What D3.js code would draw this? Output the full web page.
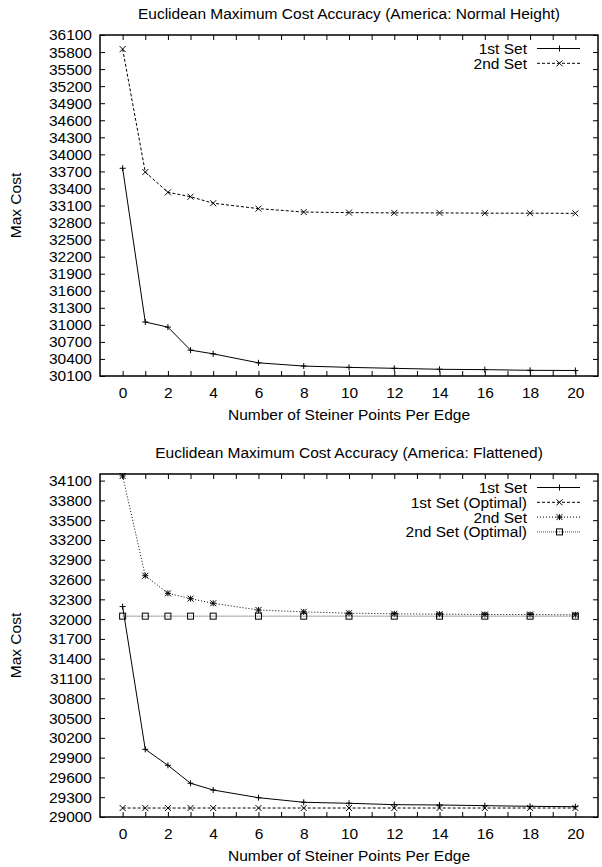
<!DOCTYPE html>
<html>
<head>
<meta charset="utf-8">
<script src="https://cdn.jsdelivr.net/npm/d3@7"></script>
<style>
  html, body { margin: 0; padding: 0; background: #fff; }
  svg { display: block; }
  text { font-family: "Liberation Sans", Arial, Helvetica, sans-serif; fill: #000; }
</style>
</head>
<body>
<svg id="chart" width="602" height="867"></svg>
<script>
// ---------------- DATA ----------------
const steinerPoints = [0, 1, 2, 3, 4, 6, 8, 10, 12, 14, 16, 18, 20];
const xTickValues = d3.range(0, 21);          // tick marks at every integer
const xTickLabels = [0, 2, 4, 6, 8, 10, 12, 14, 16, 18, 20];

// Chart 1: America Normal Height
const normalTitle = "Euclidean Maximum Cost Accuracy (America: Normal Height)";
const normalFirstSet  = [33755, 31050, 30960, 30555, 30490, 30332, 30275, 30252, 30235, 30218, 30212, 30200, 30197];
const normalSecondSet = [35852, 33688, 33332, 33255, 33140, 33045, 32985, 32975, 32970, 32970, 32965, 32965, 32962];
const normalYTicks = [30100, 30400, 30700, 31000, 31300, 31600, 31900, 32200, 32500, 32800, 33100,
                      33400, 33700, 34000, 34300, 34600, 34900, 35200, 35500, 35800, 36100];
const normalYDomain = [30100, 36100];

// Chart 2: America Flattened
const flatTitle = "Euclidean Maximum Cost Accuracy (America: Flattened)";
const flatFirstSet         = [32190, 30026, 29784, 29511, 29409, 29293, 29223, 29208, 29187, 29182, 29172, 29162, 29156];
const flatFirstSetOptimal  = [29136, 29136, 29136, 29136, 29136, 29136, 29136, 29136, 29136, 29136, 29136, 29136, 29136];
const flatSecondSet        = [34170, 32658, 32391, 32310, 32240, 32138, 32110, 32090, 32080, 32075, 32070, 32070, 32065];
const flatSecondSetOptimal = [32045, 32045, 32045, 32045, 32045, 32045, 32045, 32045, 32045, 32045, 32045, 32045, 32045];
const flatYTicks = [29000, 29300, 29600, 29900, 30200, 30500, 30800, 31100, 31400, 31700, 32000,
                    32300, 32600, 32900, 33200, 33500, 33800, 34100];
const flatYDomain = [29000, 34200];

const xAxisLabel = "Number of Steiner Points Per Edge";
const yAxisLabel = "Max Cost";

// ---------------- DRAWING ----------------
const FONT = 15.5;
const svg = d3.select("#chart");

function marker(g, type, cx, cy) {
  const s = 3;
  const st = { stroke: "#000", "stroke-width": 1, fill: "none" };
  const path = (d) => { const p = g.append("path").attr("d", d); Object.entries(st).forEach(([k, v]) => p.attr(k, v)); };
  if (type === "plus" || type === "star") {
    path(`M${cx - s},${cy}H${cx + s}M${cx},${cy - s}V${cy + s}`);
  }
  if (type === "cross" || type === "star") {
    path(`M${cx - s},${cy - s}L${cx + s},${cy + s}M${cx - s},${cy + s}L${cx + s},${cy - s}`);
  }
  if (type === "square") {
    const r = g.append("rect").attr("x", cx - s).attr("y", cy - s).attr("width", 2 * s).attr("height", 2 * s);
    Object.entries(st).forEach(([k, v]) => r.attr(k, v));
  }
}

function drawChart(opt) {
  const { top, bottom, left, right, title, yDomain, yTicks, series } = opt;
  const g = svg.append("g");
  const x = d3.scaleLinear().domain([-1, 21]).range([left, right]);
  const y = d3.scaleLinear().domain(yDomain).range([bottom, top]);

  // Axes (inward ticks)
  const fmtX = (d) => xTickLabels.includes(d) ? String(d) : "";
  const axB = g.append("g").attr("transform", `translate(0,${bottom})`)
    .call(d3.axisBottom(x).tickValues(xTickValues).tickSize(-5).tickPadding(11).tickFormat(fmtX));
  const axT = g.append("g").attr("transform", `translate(0,${top})`)
    .call(d3.axisTop(x).tickValues(xTickValues).tickSize(-5).tickFormat(() => ""));
  const axL = g.append("g").attr("transform", `translate(${left},0)`)
    .call(d3.axisLeft(y).tickValues(yTicks).tickSize(-5).tickPadding(8).tickFormat(d3.format("d")));
  const axR = g.append("g").attr("transform", `translate(${right},0)`)
    .call(d3.axisRight(y).tickValues(yTicks).tickSize(-5).tickFormat(() => ""));
  [axB, axT, axL, axR].forEach(a => {
    a.select(".domain").remove();
    a.selectAll(".tick line").attr("stroke", "#000").attr("stroke-width", 1);
    a.selectAll("text").attr("font-size", FONT).attr("font-family", '"Liberation Sans", Arial, sans-serif').attr("fill", "#000");
  });

  // Frame
  g.append("rect").attr("x", left).attr("y", top).attr("width", right - left).attr("height", bottom - top)
    .attr("fill", "none").attr("stroke", "#000").attr("stroke-width", 1.5);

  // Series
  const line = d3.line().x((d, i) => x(steinerPoints[i])).y(d => y(d));
  series.forEach(s => {
    g.append("path").datum(s.values).attr("d", line)
      .attr("fill", "none").attr("stroke", s.color).attr("stroke-width", 1)
      .attr("stroke-dasharray", s.dash);
    s.values.forEach((v, i) => marker(g, s.marker, x(steinerPoints[i]), y(v)));
  });

  // Legend
  const lx1 = 537, lx2 = 580, ltext = 527;
  series.forEach((s, i) => {
    const ly = top + 13.5 + i * 14.8;
    g.append("text").attr("x", ltext).attr("y", ly).attr("dy", "0.35em")
      .attr("text-anchor", "end").attr("font-size", FONT).text(s.name);
    g.append("line").attr("x1", lx1).attr("x2", lx2).attr("y1", ly).attr("y2", ly)
      .attr("stroke", s.color).attr("stroke-width", 1).attr("stroke-dasharray", s.dash);
    marker(g, s.marker, (lx1 + lx2) / 2 + 1, ly);
  });

  // Title and labels
  g.append("text").attr("x", (left + right) / 2).attr("y", top - 16).attr("text-anchor", "middle")
    .attr("font-size", FONT).text(title);
  g.append("text").attr("x", (left + right) / 2).attr("y", bottom + 44).attr("text-anchor", "middle")
    .attr("font-size", FONT).text(xAxisLabel);
  g.append("text").attr("transform", `translate(21,${(top + bottom) / 2}) rotate(-90)`)
    .attr("text-anchor", "middle").attr("font-size", FONT).text(yAxisLabel);
}

drawChart({
  top: 35, bottom: 376, left: 100, right: 598,
  title: normalTitle, yDomain: normalYDomain, yTicks: normalYTicks,
  series: [
    { name: "1st Set", values: normalFirstSet, marker: "plus", dash: null, color: "#000" },
    { name: "2nd Set", values: normalSecondSet, marker: "cross", dash: "3,2", color: "#000" }
  ]
});

drawChart({
  top: 474, bottom: 817, left: 100, right: 598,
  title: flatTitle, yDomain: flatYDomain, yTicks: flatYTicks,
  series: [
    { name: "1st Set", values: flatFirstSet, marker: "plus", dash: null, color: "#000" },
    { name: "1st Set (Optimal)", values: flatFirstSetOptimal, marker: "cross", dash: "3,2", color: "#000" },
    { name: "2nd Set", values: flatSecondSet, marker: "star", dash: "1,2", color: "#000" },
    { name: "2nd Set (Optimal)", values: flatSecondSetOptimal, marker: "square", dash: "1,1", color: "#444" }
  ]
});
</script>
</body>
</html>
